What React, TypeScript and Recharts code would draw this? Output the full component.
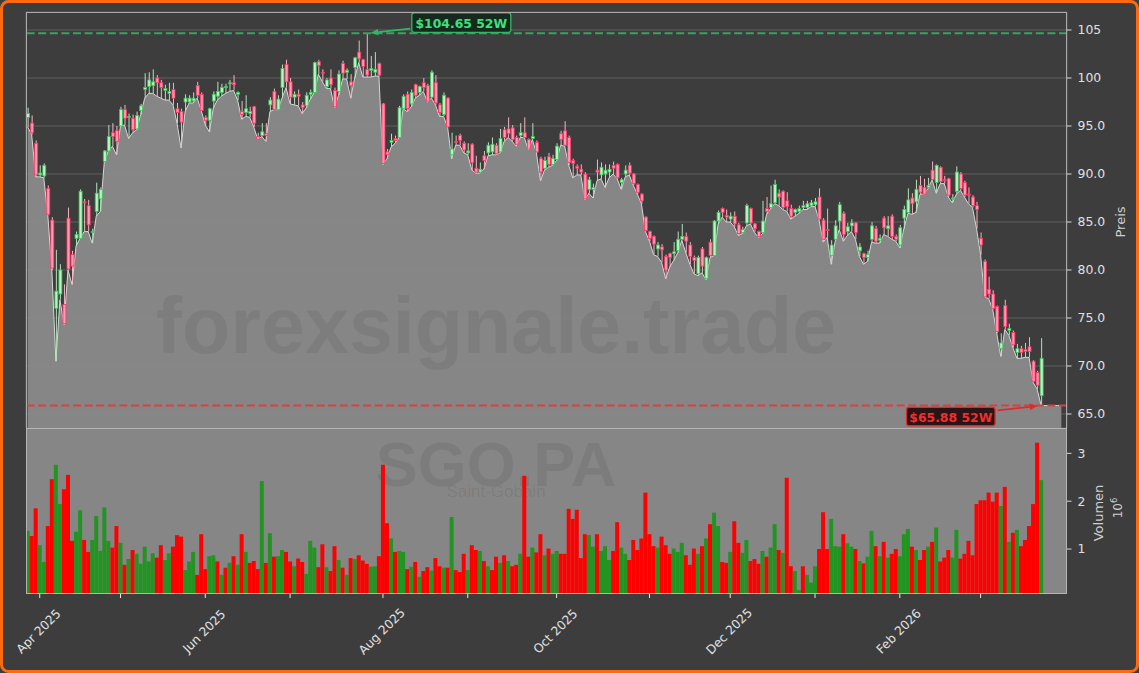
import React from "react";
import {
  ComposedChart,
  Bar,
  Area,
  XAxis,
  YAxis,
  CartesianGrid,
  ReferenceLine,
  ReferenceDot,
  Cell,
} from "recharts";

// ---------------- data ----------------
const opens = [
  95.9, 95.3, 93.2, 89.9, 89.8, 88.5, 85.2, 76.0, 77.5, 76.4,
  85.4, 81.6, 83.3, 83.3, 87.1, 86.7, 83.9, 86.1, 87.4, 91.3,
  92.4, 94.3, 94.5, 95.0, 96.7, 95.95, 95.8, 94.7, 96.6, 98.8,
  99.1, 99.2, 100.0, 99.5, 98.7, 98.4, 98.8, 96.8, 96.5, 97.5,
  97.5, 97.6, 99.2, 98.3, 95.9, 95.6, 97.6, 98.1, 98.5, 99.0,
  99.4, 99.5, 98.3, 96.5, 96.4, 96.3, 97.0, 93.9, 94.0, 94.2,
  97.2, 98.6, 96.7, 99.0, 101.4, 99.6, 98.0, 98.3, 97.2, 97.1,
  98.3, 98.5, 101.7, 100.6, 99.1, 100.0, 98.7, 98.6, 101.5, 100.6,
  99.6, 101.1, 102.7, 101.9, 100.9, 100.8, 100.6, 101.5, 97.3, 92.3,
  93.3, 93.7, 93.8, 96.8, 98.3, 97.3, 99.3, 98.5, 99.5, 99.2,
  98.0, 99.5, 97.2, 96.2, 97.9, 92.0, 93.4, 94.0, 93.2, 92.2,
  93.1, 90.6, 90.2, 91.9, 92.2, 92.3, 93.0, 92.3, 94.6, 94.7,
  94.8, 93.8, 94.0, 94.3, 93.6, 93.7, 93.3, 91.6, 90.6, 91.8,
  91.0, 91.5, 94.2, 94.5, 93.8, 91.4, 90.8, 90.5, 90.0, 88.4,
  88.4, 90.4, 89.9, 90.0, 90.2, 90.9, 91.0, 89.1, 90.0, 90.9,
  90.0, 88.9, 87.9, 85.5, 84.0, 83.5, 82.2, 82.4, 81.4, 81.7,
  81.7, 82.0, 83.2, 83.5, 82.6, 81.3, 79.6, 82.2, 79.1, 82.9,
  81.5, 85.1, 86.4, 85.7, 85.3, 85.6, 84.7, 83.9, 84.9, 86.4,
  84.8, 84.0, 83.9, 86.4, 86.5, 87.0, 88.0, 88.2, 87.2, 86.4,
  86.0, 86.1, 86.5, 86.5, 86.7, 86.8, 87.6, 85.2, 84.2, 81.5,
  83.2, 85.1, 85.9, 84.0, 84.6, 84.9, 82.0, 81.7, 81.3, 83.2,
  84.3, 83.1, 85.4, 84.3, 85.6, 83.5, 82.6, 85.4, 86.0, 87.5,
  87.1, 88.8, 88.6, 88.6, 90.4, 89.1, 90.7, 89.4, 89.5, 87.4,
  88.2, 90.0, 89.1, 87.9, 87.6, 86.7, 83.3, 80.9, 78.0, 77.5,
  76.2, 71.8, 76.3, 73.7, 73.5, 71.4, 71.8, 71.7, 72.0, 70.5,
  69.3, 66.9,
];

const highs = [
  96.9, 96.1, 93.5, 90.9, 91.1, 88.8, 85.5, 82.1, 80.6, 78.5,
  86.5, 82.0, 84.0, 88.4, 87.4, 87.3, 84.3, 89.1, 88.6, 92.5,
  95.1, 95.3, 95.0, 97.0, 97.2, 96.3, 96.2, 96.5, 97.3, 100.5,
  100.6, 100.9, 100.3, 99.8, 99.3, 99.5, 99.5, 97.4, 96.8, 98.3,
  98.2, 98.5, 99.6, 98.5, 96.1, 96.9, 98.6, 99.6, 99.4, 99.4,
  99.8, 100.3, 98.6, 97.6, 98.2, 97.0, 97.1, 94.3, 95.3, 95.3,
  98.0, 98.9, 98.2, 101.4, 101.9, 100.0, 98.6, 98.8, 97.5, 98.5,
  98.8, 101.7, 101.9, 100.9, 100.0, 100.9, 99.0, 100.8, 101.8, 101.0,
  100.4, 102.2, 103.9, 102.0, 104.65, 102.3, 102.7, 101.6, 97.4, 92.6,
  94.2, 94.0, 97.1, 98.3, 98.6, 98.8, 99.4, 99.2, 100.0, 99.4,
  100.8, 100.3, 97.4, 98.5, 98.0, 94.3, 94.0, 94.2, 93.4, 93.2,
  93.2, 91.9, 91.2, 92.4, 93.3, 93.8, 93.2, 94.7, 94.9, 95.9,
  95.1, 94.0, 95.3, 95.9, 93.7, 95.3, 93.5, 91.8, 91.8, 92.2,
  92.0, 93.2, 94.5, 95.5, 94.0, 91.6, 91.0, 91.0, 90.2, 89.7,
  89.0, 91.5, 91.2, 91.0, 91.0, 91.3, 91.1, 89.6, 90.9, 91.2,
  90.1, 89.0, 88.0, 85.6, 84.1, 83.6, 82.9, 82.7, 81.6, 81.8,
  82.9, 84.0, 84.8, 83.9, 82.9, 81.5, 81.5, 82.4, 81.4, 83.2,
  85.2, 86.2, 86.5, 86.3, 86.0, 86.1, 84.9, 84.5, 86.9, 86.5,
  84.9, 84.1, 87.2, 87.6, 88.8, 89.4, 88.4, 88.3, 88.1, 86.8,
  86.4, 86.7, 87.2, 87.2, 87.3, 87.5, 88.5, 85.4, 86.4, 83.1,
  85.2, 87.1, 86.1, 84.9, 85.3, 85.0, 82.8, 81.8, 82.0, 85.0,
  84.6, 83.7, 85.6, 85.6, 85.8, 83.7, 84.7, 86.7, 88.5, 88.0,
  89.4, 89.8, 89.5, 89.6, 91.3, 91.0, 90.8, 89.8, 89.6, 87.9,
  90.8, 90.2, 89.3, 88.6, 87.8, 87.1, 83.9, 81.1, 79.3, 77.9,
  76.3, 73.4, 76.9, 74.4, 73.7, 72.3, 72.1, 72.4, 73.0, 70.6,
  69.5, 72.9,
];

const lows = [
  94.9, 94.1, 89.7, 89.7, 89.6, 85.7, 80.0, 70.5, 76.9, 74.3,
  80.0, 78.5, 82.5, 83.3, 84.0, 84.0, 82.8, 85.6, 86.1, 91.3,
  92.4, 92.9, 92.0, 95.0, 95.1, 93.7, 94.3, 94.6, 96.2, 97.9,
  98.4, 98.4, 98.1, 97.9, 97.7, 97.7, 97.2, 95.3, 92.7, 96.5,
  97.4, 97.4, 97.9, 96.6, 95.1, 94.4, 96.9, 97.7, 98.1, 98.4,
  98.6, 98.7, 97.7, 95.7, 96.0, 95.9, 94.9, 93.6, 93.9, 93.4,
  96.5, 96.7, 96.7, 97.9, 99.0, 97.3, 97.2, 97.1, 96.3, 96.9,
  97.8, 98.5, 100.4, 99.6, 98.9, 98.9, 96.9, 98.2, 99.9, 99.9,
  97.9, 100.0, 101.6, 100.1, 100.1, 100.1, 100.2, 100.2, 91.0, 91.6,
  92.8, 93.2, 93.8, 96.8, 96.5, 97.0, 97.9, 98.2, 98.6, 97.5,
  97.9, 97.2, 96.0, 96.0, 94.9, 91.6, 93.0, 93.0, 92.2, 92.0,
  90.4, 90.1, 90.1, 90.5, 91.9, 92.0, 92.0, 92.2, 93.4, 93.8,
  93.4, 92.9, 93.8, 93.8, 92.5, 93.6, 92.2, 89.3, 90.4, 90.7,
  90.9, 91.4, 93.0, 92.9, 90.9, 89.6, 89.9, 89.9, 87.3, 88.0,
  87.5, 89.3, 89.5, 88.6, 89.6, 90.0, 89.5, 88.4, 89.7, 89.9,
  88.8, 87.9, 86.9, 84.0, 83.0, 81.6, 81.4, 80.8, 79.1, 80.3,
  81.0, 81.8, 83.1, 81.8, 80.6, 79.6, 79.4, 79.7, 79.0, 81.3,
  81.5, 84.8, 85.5, 85.0, 85.0, 84.5, 83.6, 83.8, 84.6, 84.8,
  83.9, 83.4, 83.8, 85.8, 86.4, 86.9, 86.7, 86.3, 86.1, 85.3,
  85.6, 85.9, 86.3, 86.3, 86.6, 86.6, 85.2, 82.9, 83.4, 80.6,
  83.0, 84.2, 83.0, 83.6, 84.0, 83.2, 81.4, 80.6, 80.9, 82.9,
  82.8, 82.8, 83.7, 83.5, 83.2, 83.0, 82.3, 84.3, 85.9, 85.8,
  86.0, 87.9, 87.9, 88.5, 89.4, 88.0, 89.0, 89.0, 87.6, 87.0,
  87.9, 88.3, 87.6, 86.9, 86.5, 84.3, 81.6, 77.2, 77.0, 75.9,
  73.4, 71.0, 73.8, 73.2, 71.9, 70.8, 70.8, 70.9, 70.9, 68.3,
  67.6, 65.88,
];

const closes = [
  96.3, 94.3, 89.9, 90.1, 90.9, 85.8, 80.2, 77.8, 80.0, 74.4,
  80.1, 80.4, 83.7, 88.2, 87.0, 84.7, 84.0, 88.0, 88.4, 92.4,
  93.9, 93.9, 93.4, 96.7, 95.8, 96.0, 94.6, 96.1, 97.1, 99.0,
  99.8, 99.6, 99.5, 99.0, 98.9, 98.6, 97.9, 96.4, 95.4, 97.9,
  97.9, 97.9, 98.2, 96.6, 95.6, 96.8, 98.3, 98.6, 99.0, 99.1,
  99.5, 99.3, 98.5, 96.2, 96.8, 96.5, 95.3, 93.6, 94.4, 94.0,
  97.7, 96.7, 97.8, 101.0, 99.6, 98.0, 98.3, 98.1, 96.9, 98.2,
  98.5, 101.6, 101.3, 100.5, 99.8, 99.3, 97.0, 100.4, 100.5, 100.8,
  99.2, 102.1, 102.0, 101.2, 100.3, 101.0, 100.9, 100.3, 91.1, 92.0,
  93.5, 93.5, 96.9, 98.1, 96.8, 98.5, 98.2, 99.1, 99.0, 97.6,
  100.6, 97.4, 96.4, 98.2, 94.9, 92.6, 93.3, 93.5, 92.5, 92.4,
  91.2, 90.2, 90.5, 91.4, 93.0, 93.1, 92.1, 93.7, 93.8, 94.2,
  93.6, 93.1, 94.3, 93.8, 92.6, 93.9, 92.3, 90.2, 91.4, 91.0,
  91.6, 92.9, 93.6, 93.0, 91.2, 91.1, 90.6, 90.2, 87.4, 89.4,
  88.6, 90.2, 90.7, 90.4, 90.5, 90.6, 89.6, 89.4, 90.4, 90.1,
  89.0, 88.1, 87.2, 84.1, 83.3, 82.7, 82.6, 82.1, 80.0, 81.3,
  81.9, 83.2, 83.5, 83.0, 81.4, 81.0, 81.3, 80.4, 81.3, 81.5,
  85.1, 86.0, 86.0, 85.5, 85.6, 84.8, 83.8, 84.2, 86.7, 84.9,
  84.3, 83.5, 85.1, 86.1, 86.9, 88.9, 87.6, 86.5, 86.6, 85.6,
  86.3, 86.4, 86.7, 86.9, 87.0, 87.1, 85.3, 83.2, 84.1, 82.6,
  84.6, 86.8, 83.7, 84.5, 84.9, 83.9, 82.4, 81.3, 81.6, 84.6,
  83.0, 83.3, 84.4, 84.6, 83.5, 83.2, 84.4, 86.3, 87.3, 86.9,
  88.4, 88.1, 87.9, 88.8, 89.4, 90.9, 89.2, 89.3, 87.8, 87.5,
  90.2, 88.5, 87.8, 87.8, 86.7, 86.3, 82.6, 77.2, 77.5, 76.0,
  73.6, 72.4, 74.1, 73.9, 72.2, 71.8, 71.4, 71.5, 71.5, 68.4,
  68.0, 70.8,
];

// trading volume in millions of shares
const volumes = [
  1.38, 1.27, 1.85, 1.08, 0.73, 1.48, 2.46, 2.76, 1.94, 2.25,
  2.55, 1.17, 1.36, 1.81, 1.19, 0.94, 1.19, 1.69, 0.96, 1.87,
  1.17, 1.03, 1.48, 1.13, 0.67, 0.79, 0.98, 0.9, 0.69, 1.05,
  0.74, 0.91, 0.82, 1.08, 0.77, 0.91, 1.05, 1.29, 1.26, 0.56,
  0.74, 0.94, 0.46, 1.31, 0.58, 0.85, 0.87, 0.74, 0.46, 0.61,
  0.71, 0.85, 0.67, 1.31, 0.94, 0.71, 0.75, 0.58, 2.42, 0.71,
  1.33, 0.84, 0.85, 0.98, 0.94, 0.74, 0.64, 0.8, 0.73, 0.48,
  1.17, 1.03, 0.62, 1.1, 0.62, 0.54, 1.06, 0.77, 0.61, 0.46,
  0.81, 0.79, 0.87, 0.76, 0.69, 0.63, 0.64, 0.85, 2.76, 1.54,
  1.22, 0.94, 0.96, 0.94, 0.58, 0.63, 0.73, 0.42, 0.54, 0.62,
  0.55, 0.81, 0.64, 0.61, 0.61, 1.67, 0.56, 0.52, 0.9, 0.56,
  1.08, 0.98, 0.96, 0.75, 0.64, 0.56, 0.84, 0.71, 0.87, 0.75,
  0.64, 0.67, 0.9, 2.53, 0.84, 1.03, 0.93, 1.31, 0.87, 1.01,
  0.9, 0.96, 0.9, 0.9, 1.84, 1.63, 1.82, 0.81, 1.31, 1.29,
  1.05, 1.31, 0.96, 1.06, 0.77, 0.96, 1.56, 1.03, 0.9, 0.77,
  1.19, 0.98, 1.22, 2.18, 1.31, 1.06, 1.03, 1.26, 1.08, 0.9,
  1.01, 0.94, 1.13, 0.87, 0.67, 1.01, 0.9, 1.06, 1.22, 1.52,
  1.76, 1.48, 0.73, 0.71, 0.94, 1.58, 1.13, 0.92, 1.19, 0.75,
  0.79, 0.69, 0.96, 0.84, 1.03, 1.52, 0.98, 0.92, 2.49, 0.64,
  0.54, 0.14, 0.64, 0.46, 0.3, 0.64, 1.0, 1.77, 1.0, 1.63,
  1.06, 1.05, 1.31, 1.12, 1.05, 1.0, 0.75, 0.7, 0.84, 1.38,
  1.06, 0.85, 1.15, 0.82, 0.9, 1.0, 0.85, 1.31, 1.42, 1.05,
  0.98, 0.77, 0.98, 1.05, 1.15, 1.45, 0.74, 0.82, 0.98, 0.82,
  1.4, 0.8, 0.9, 1.17, 0.87, 1.94, 2.02, 2.02, 2.18, 1.99,
  2.18, 1.9, 2.3, 1.15, 1.34, 1.4, 1.06, 1.19, 1.48, 1.94,
  3.22, 2.44,
];

// G = green (up) volume bar, R = red (down) volume bar
const volumeSides = (
  "GRRGGRRGGR" + "RRGGRRGGGG" + "GRRGRGRGGG" + "GGRRGGRRRG" + "GGRRRGGRGR" +
  "GRGRGRRRGR" + "GRGGRRGRRG" + "GGRRGRRGRG" + "RGRRRGGRRR" + "GRGGRGRGRR" +
  "GRRGRGRRRG" + "RRGRGRRGRG" + "RRGRRGRRGR" + "GGRRRRRRRG" + "GRGGGRRGGR" +
  "RRRRRRGRRR" + "GGGRRRGRGR" + "GGRRGRRGGR" + "RRGRGGRGRR" + "GGRGGGRRRG" +
  "GGRGGRGRGG" + "RGRGRRGGGR" + "GRRGRGRRRG" + "GRRRRRRRRR" + "RGRGRGRRRR" +
  "RG"
).split("");

// flat low-line continuation drawn after the last session
const tailLows = [65.88, 65.88, 65.88, 65.88, 65.88];

// first trading session of each month (index) and its label
const monthTickIdx = [3, 23, 44, 65, 88, 109, 131, 154, 174, 195, 216, 236];
const monthTickLabels = [
  "Apr 2025", "", "Jun 2025", "", "Aug 2025", "", "Oct 2025", "", "Dec 2025", "", "Feb 2026", "",
];
const priceTicks = [65, 70, 75, 80, 85, 90, 95, 100, 105];
const volumeTicks = [1, 2, 3];

const high52 = { idx: 84, value: 104.65, label: "$104.65 52W" };
const low52 = { idx: 251, value: 65.88, label: "$65.88 52W" };

// ---------------- layout / style ----------------
const W = 1139;
const H = 673;
const PLOT_L = 26;
const PLOT_R = 1067;
const PRICE_TOP = 12;
const SPLIT = 428;
const VOL_BOTTOM = 594;
const X_DOMAIN: [number, number] = [-0.4, 257.4];
const PRICE_DOMAIN: [number, number] = [63.54, 106.875];
const VOL_DOMAIN: [number, number] = [0.06, 3.53];
const FONT = "DejaVu Sans, sans-serif";
const WM_FONT = "Liberation Sans, Arial, sans-serif";
const BG = "#3d3d3d";
const TXT = "#e0e0e0";
const VOL_GREEN = "#229422";
const VOL_RED = "#fe0000";

const priceRows: any[] = [
  ...opens.map((o, i) => ({ i, o, h: highs[i], l: lows[i], c: closes[i], area: lows[i] })),
  ...tailLows.map((v, k) => ({ i: opens.length + k, area: v })),
];
const volumeRows = volumes.map((v, i) => ({ i, v, up: volumeSides[i] === "G" }));

const candleRange = (d: any) => (d.h == null ? null : [d.l, d.h]);

const Candle = (props: any) => {
  const { x, y, width, height, payload } = props;
  if (!payload || payload.o == null || !isFinite(y) || !isFinite(height)) return null;
  const top = Math.min(y, y + height);
  const bot = Math.max(y, y + height);
  const span = payload.h - payload.l;
  const py = (v: number) => (span > 0 ? top + ((payload.h - v) / span) * (bot - top) : top);
  const up = payload.c >= payload.o;
  const bTop = py(Math.max(payload.o, payload.c));
  const bBot = py(Math.min(payload.o, payload.c));
  const cx = x + width / 2;
  return (
    <g>
      <line x1={cx} x2={cx} y1={top} y2={bot} stroke={up ? "#b2e3bb" : "#f3b4c4"} strokeWidth={1} />
      <rect
        x={x}
        y={bTop}
        width={width}
        height={Math.max(bBot - bTop, 1)}
        fill={up ? "#bfeec7" : "#ff9ab2"}
        stroke={up ? "#38c457" : "#ff3362"}
        strokeWidth={0.8}
      />
    </g>
  );
};

const fmtPrice = (v: number) => (v >= 100 ? String(v) : v.toFixed(1));

const Note = ({ cx, cy, label, dir, color, textColor, boxFill }: any) => {
  // dir = +1: box to the upper right; dir = -1: box to the lower left
  if (!isFinite(cx) || !isFinite(cy)) return null;
  const sx = cx + dir * 43.5;
  const sy = cy - dir * 4.8;
  const len = Math.hypot(sx - cx, sy - cy);
  const ux = (sx - cx) / len;
  const uy = (sy - cy) / len;
  const tx = cx + ux * 3.5;
  const ty = cy + uy * 3.5;
  const hx = tx + ux * 8;
  const hy = ty + uy * 8;
  const px = -uy * 3.2;
  const py = ux * 3.2;
  const bw = dir > 0 ? 99 : 88.5;
  const bh = dir > 0 ? 19.4 : 18.4;
  const bx = dir > 0 ? cx + 45 : cx - 134.6;
  const by = dir > 0 ? cy - 20.4 : cy + 1.8;
  return (
    <g>
      <line x1={sx} y1={sy} x2={hx} y2={hy} stroke={color} strokeWidth={1.8} />
      <polygon points={`${tx},${ty} ${hx + px},${hy + py} ${hx - px},${hy - py}`} fill={color} />
      <rect x={bx} y={by} width={bw} height={bh} rx={2.5} fill={boxFill} stroke={color} strokeWidth={1.3} />
      <text
        x={bx + bw / 2}
        y={by + bh / 2 + 0.5}
        textAnchor="middle"
        dominantBaseline="central"
        fontFamily={FONT}
        fontWeight="bold"
        fontSize={12.4}
        fill={textColor}
      >
        {label}
      </text>
    </g>
  );
};

const HighNote = (p: any) => (
  <Note cx={p.cx} cy={p.cy} label={high52.label} dir={1} color="#2fb863" textColor="#3ee07f" boxFill="#15291d" />
);
const LowNote = (p: any) => (
  <Note cx={p.cx} cy={p.cy} label={low52.label} dir={-1} color="#e02a2a" textColor="#f03030" boxFill="#2a1414" />
);

const MonthTick = (props: any) => {
  const { x, y, payload } = props;
  const k = monthTickIdx.indexOf(payload.value);
  const label = k >= 0 ? monthTickLabels[k] : "";
  if (!label) return null;
  return (
    <text
      transform={`translate(${x - 1},${y + 31.5}) rotate(-45)`}
      textAnchor="middle"
      dominantBaseline="central"
      fontFamily={FONT}
      fontSize={12.3}
      fill={TXT}
    >
      {label}
    </text>
  );
};

const axisTick = { fill: TXT, fontSize: 12.4, fontFamily: FONT };

export default function App() {
  return (
    <div style={{ position: "absolute", left: 0, top: 0, width: W, height: H, background: BG, overflow: "hidden" }}>
      {/* background layer: volume panel and its watermark */}
      <svg width={W} height={H} style={{ position: "absolute", left: 0, top: 0 }}>
        <rect x={PLOT_L} y={SPLIT} width={PLOT_R - PLOT_L} height={VOL_BOTTOM - SPLIT} fill="#868686" />
        <text x={496} y={486} textAnchor="middle" fontFamily={WM_FONT} fontWeight="bold" fontSize={63} fill="#000" fillOpacity={0.07}>
          SGO.PA
        </text>
        <text x={496} y={497} textAnchor="middle" fontFamily={WM_FONT} fontSize={17} fill="#000" fillOpacity={0.08}>
          Saint-Gobain
        </text>
      </svg>

      {/* price panel */}
      <div style={{ position: "absolute", left: 0, top: 0 }}>
        <ComposedChart width={W} height={SPLIT} data={priceRows} margin={{ top: PRICE_TOP, right: W - PLOT_R - 60, bottom: 0, left: PLOT_L }}>
          <CartesianGrid stroke="#646464" strokeWidth={0.9} />
          <XAxis
            type="number"
            dataKey="i"
            domain={X_DOMAIN}
            allowDataOverflow
            ticks={monthTickIdx}
            interval={0}
            height={0}
            tick={false}
            tickLine={false}
            axisLine={false}
          />
          <YAxis
            orientation="right"
            type="number"
            domain={PRICE_DOMAIN}
            allowDataOverflow
            ticks={priceTicks}
            interval={0}
            width={60}
            tickSize={4.5}
            tickMargin={6}
            tickFormatter={fmtPrice}
            tick={axisTick}
            tickLine={{ stroke: "#d8d8d8" }}
            axisLine={false}
          />
          <Bar dataKey={candleRange} barSize={3} shape={Candle} isAnimationActive={false} />
          <Area
            type="linear"
            dataKey="area"
            stroke="#d6d6d6"
            strokeWidth={1}
            fill="#8c8c8c"
            fillOpacity={0.93}
            dot={false}
            activeDot={false}
            isAnimationActive={false}
          />
          <ReferenceLine y={high52.value} stroke="#36a35f" strokeWidth={2} strokeDasharray="8 3.6" />
          <ReferenceLine y={low52.value} stroke="#d94040" strokeWidth={2} strokeDasharray="8 3.6" />
          <ReferenceDot x={high52.idx} y={high52.value} r={0} shape={HighNote} />
          <ReferenceDot x={low52.idx} y={low52.value} r={0} shape={LowNote} />
        </ComposedChart>
      </div>

      {/* volume panel */}
      <div style={{ position: "absolute", left: 0, top: SPLIT }}>
        <ComposedChart width={W} height={H - SPLIT} data={volumeRows} margin={{ top: 0, right: W - PLOT_R - 60, bottom: 0, left: PLOT_L }}>
          <XAxis
            type="number"
            dataKey="i"
            domain={X_DOMAIN}
            allowDataOverflow
            ticks={monthTickIdx}
            interval={0}
            height={H - VOL_BOTTOM}
            tickSize={4}
            tickMargin={2}
            tick={<MonthTick />}
            tickLine={{ stroke: "#e6e6e6" }}
            axisLine={false}
          />
          <YAxis
            orientation="right"
            type="number"
            domain={VOL_DOMAIN}
            allowDataOverflow
            ticks={volumeTicks}
            interval={0}
            width={60}
            tickSize={4.5}
            tickMargin={6}
            tick={axisTick}
            tickLine={{ stroke: "#d8d8d8" }}
            axisLine={false}
          />
          <Bar dataKey="v" barSize={4} isAnimationActive={false}>
            {volumeRows.map((r) => (
              <Cell key={r.i} fill={r.up ? VOL_GREEN : VOL_RED} />
            ))}
          </Bar>
        </ComposedChart>
      </div>

      {/* overlay: watermark, frames, axis titles, border */}
      <svg width={W} height={H} style={{ position: "absolute", left: 0, top: 0, pointerEvents: "none" }}>
        <text x={496} y={353} textAnchor="middle" fontFamily={WM_FONT} fontWeight="bold" fontSize={79} fill="#000" fillOpacity={0.065}>
          forexsignale.trade
        </text>
        <rect x={PLOT_L + 0.5} y={PRICE_TOP + 0.5} width={PLOT_R - PLOT_L - 1} height={SPLIT - PRICE_TOP} fill="none" stroke="#ababab" strokeWidth={1} />
        <rect x={PLOT_L + 0.5} y={SPLIT + 0.5} width={PLOT_R - PLOT_L - 1} height={VOL_BOTTOM - SPLIT - 1} fill="none" stroke="#b4b4b4" strokeWidth={1} />
        <text transform="translate(1125,222) rotate(-90)" textAnchor="middle" fontFamily={FONT} fontSize={13} fill="#cfcfcf">
          Preis
        </text>
        <text transform="translate(1103,513) rotate(-90)" textAnchor="middle" fontFamily={FONT} fontSize={13} fill="#cfcfcf">
          Volumen
        </text>
        <text transform="translate(1122,508) rotate(-90)" textAnchor="middle" fontFamily={FONT} fontSize={12} fill="#cfcfcf">
          10
          <tspan dy={-5} fontSize={8.5}>
            6
          </tspan>
        </text>
        <rect x={1.5} y={1.5} width={W - 3} height={H - 3} rx={7} fill="none" stroke="#ff6a10" strokeWidth={3} />
      </svg>
    </div>
  );
}
